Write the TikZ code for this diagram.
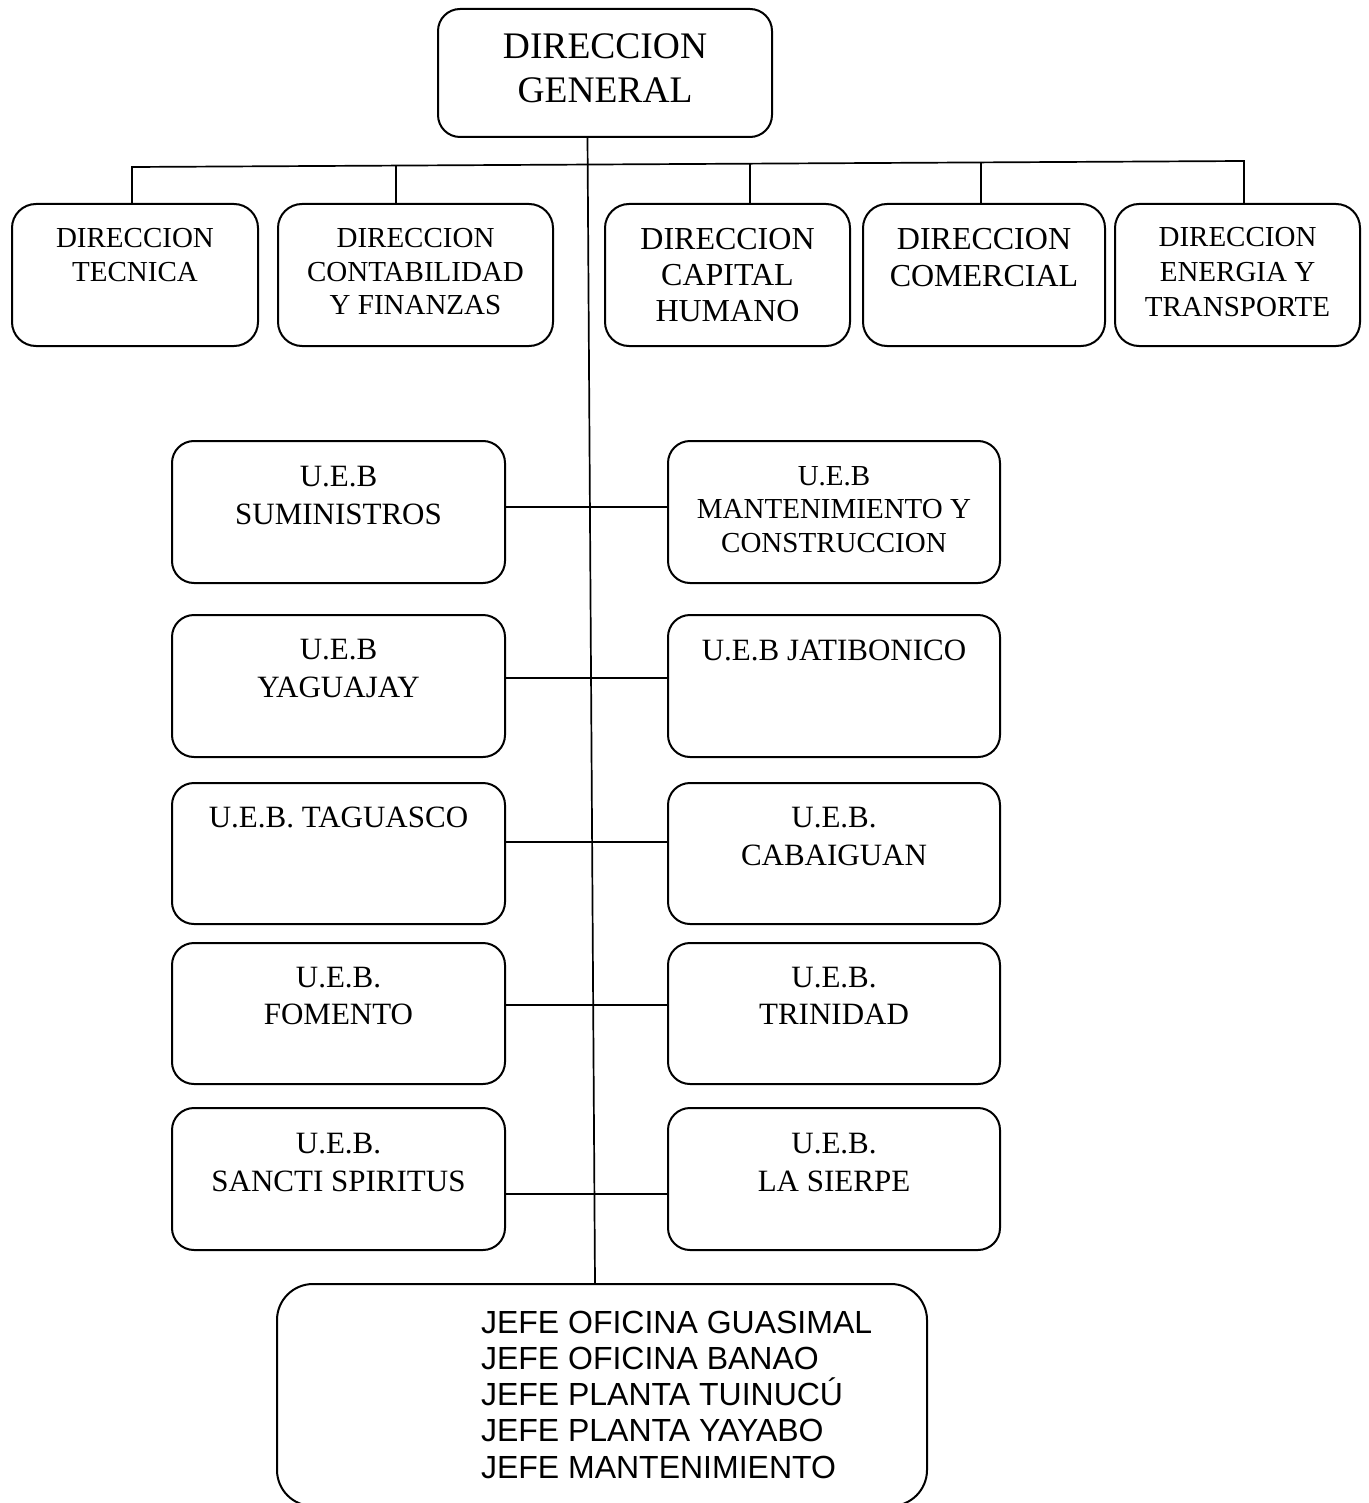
\documentclass[tikz,border=0pt]{standalone}
\usepackage{fontspec}
\setmainfont{Liberation Serif}
\newfontfamily\arialf{Liberation Sans}
\begin{document}
\begin{tikzpicture}[x=1pt,y=-1pt,
  box/.style={draw, line width=2pt, rounded corners=#1, inner sep=0pt, outer sep=0pt},
  box/.default=22pt,
  conn/.style={line width=1.7pt},
  txt/.style={align=center, inner sep=0pt, outer sep=0pt, anchor=north},
  fs/.style 2 args={font=\fontsize{#1}{#2}\selectfont}
]
\useasboundingbox (0,0) rectangle (1368,1503);

% ---- top ----
\node[box, minimum width=334pt, minimum height=128pt] (dg) at (605,73) {};
\node[txt, fs={37.5}{44}] (dgt) at (605,33.6) {DIRECCION\\GENERAL};

% ---- direcciones ----
\node[box=24pt, minimum width=246pt, minimum height=142pt] (d1) at (135,275) {};
\node[box=24pt, minimum width=275pt, minimum height=142pt] (d2) at (415.5,275) {};
\node[box=24pt, minimum width=245pt, minimum height=142pt] (d3) at (727.5,275) {};
\node[box=24pt, minimum width=242pt, minimum height=142pt] (d4) at (984,275) {};
\node[box=24pt, minimum width=245pt, minimum height=142pt] (d5) at (1237.5,275) {};
\node[txt, fs={29}{34}] (d1t) at (135,228.4) {DIRECCION\\TECNICA};
\node[txt, fs={29}{33.5}] (d2t) at (415.5,228.4) {DIRECCION\\CONTABILIDAD\\Y FINANZAS};
\node[txt, fs={32}{36}] (d3t) at (727.5,228.4) {DIRECCION\\CAPITAL\\HUMANO};
\node[txt, fs={32}{37}] (d4t) at (984,228.4) {DIRECCION\\COMERCIAL};
\node[txt, fs={29}{35}] (d5t) at (1237.5,227.4) {DIRECCION\\ENERGIA Y\\TRANSPORTE};

% ---- U.E.B. ----
\node[box, minimum width=333pt, minimum height=142pt] (u1l) at (338.5,512) {};
\node[box, minimum width=332pt, minimum height=142pt] (u1r) at (834,512) {};
\node[box, minimum width=333pt, minimum height=142pt] (u2l) at (338.5,686) {};
\node[box, minimum width=332pt, minimum height=142pt] (u2r) at (834,686) {};
\node[box, minimum width=333pt, minimum height=141pt] (u3l) at (338.5,853.5) {};
\node[box, minimum width=332pt, minimum height=141pt] (u3r) at (834,853.5) {};
\node[box, minimum width=333pt, minimum height=141pt] (u4l) at (338.5,1013.5) {};
\node[box, minimum width=332pt, minimum height=141pt] (u4r) at (834,1013.5) {};
\node[box, minimum width=333pt, minimum height=142pt] (u5l) at (338.5,1179) {};
\node[box, minimum width=332pt, minimum height=142pt] (u5r) at (834,1179) {};

\node[txt, fs={31}{38}] (u1lt) at (338.5,466) {U.E.B\\SUMINISTROS};
\node[txt, fs={29}{33.5}] (u1rt) at (834,466.4) {U.E.B\\MANTENIMIENTO Y\\CONSTRUCCION};
\node[txt, fs={31}{38}] (u2lt) at (338.5,639.5) {U.E.B\\YAGUAJAY};
\node[txt, fs={31}{38}] (u2rt) at (834,639.5) {U.E.B JATIBONICO};
\node[txt, fs={31}{38}] (u3lt) at (338.5,807) {U.E.B. TAGUASCO};
\node[txt, fs={31}{38}] (u3rt) at (834,807) {U.E.B.\\CABAIGUAN};
\node[txt, fs={31}{37}] (u4lt) at (338.5,967) {U.E.B.\\FOMENTO};
\node[txt, fs={31}{37}] (u4rt) at (834,967) {U.E.B.\\TRINIDAD};
\node[txt, fs={31}{38}] (u5lt) at (338.5,1133) {U.E.B.\\SANCTI SPIRITUS};
\node[txt, fs={31}{38}] (u5rt) at (834,1133) {U.E.B.\\LA SIERPE};

% ---- bottom ----
\node[box=36pt, minimum width=650pt, minimum height=222pt] (jefe) at (602,1395) {};
\node[inner sep=0pt, outer sep=0pt, anchor=north west, align=left,
      font=\arialf\fontsize{32}{36.3}\selectfont] (jefet) at (481,1310.7)
  {JEFE OFICINA GUASIMAL\\JEFE OFICINA BANAO\\JEFE PLANTA TUINUCÚ\\JEFE PLANTA YAYABO\\JEFE MANTENIMIENTO};

% ---- connectors ----
\coordinate (bL) at (132,167);
\coordinate (bR) at (1244,161);
\coordinate (t2) at (396,165.6);
\coordinate (t3) at (750,163.7);
\coordinate (t4) at (981,162.4);
\draw[conn] (bL |- d1.north) -- (bL) -- (bR) -- (bR |- d5.north);
\draw[conn] (t2) -- (t2 |- d2.north);
\draw[conn] (t3) -- (t3 |- d3.north);
\draw[conn] (t4) -- (t4 |- d4.north);

\draw[conn] ([xshift=-17.5pt]dg.south) -- ([xshift=-7pt]jefe.north);

\draw[conn] ([yshift=5pt]u1l.east) -- ([yshift=5pt]u1r.west);
\draw[conn] ([yshift=8pt]u2l.east) -- ([yshift=8pt]u2r.west);
\draw[conn] ([yshift=11.5pt]u3l.east) -- ([yshift=11.5pt]u3r.west);
\draw[conn] ([yshift=8.5pt]u4l.east) -- ([yshift=8.5pt]u4r.west);
\draw[conn] ([yshift=-15pt]u5l.east) -- ([yshift=-15pt]u5r.west);
\end{tikzpicture}
\end{document}
